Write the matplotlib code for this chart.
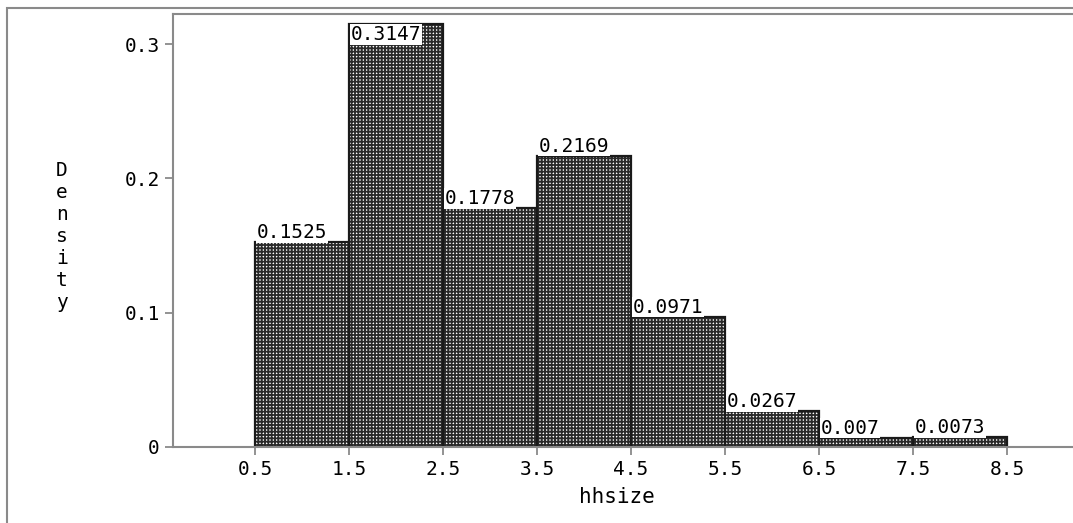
import matplotlib
matplotlib.use('Agg')
import matplotlib.pyplot as plt
from matplotlib.patches import Rectangle

# histogram data (density per bin)
bin_left = [0.5, 1.5, 2.5, 3.5, 4.5, 5.5, 6.5, 7.5]
density = [0.1525, 0.3147, 0.1778, 0.2169, 0.0971, 0.0267, 0.007, 0.0073]
bar_labels = ['0.1525', '0.3147', '0.1778', '0.2169', '0.0971', '0.0267', '0.007', '0.0073']
xticks = [0.5, 1.5, 2.5, 3.5, 4.5, 5.5, 6.5, 7.5, 8.5]
yticks = [0, 0.1, 0.2, 0.3]
ytick_labels = ['0', '0.1', '0.2', '0.3']

plt.rcParams['font.family'] = ['DejaVu Sans Mono']
plt.rcParams['hatch.linewidth'] = 1.3

W, H = 1073, 523
fig = plt.figure(figsize=(W / 100, H / 100), dpi=100)

# outer frame
fig.patches.append(Rectangle((7 / W, -0.1), 1.2, 1 - 8 / H + 0.1, transform=fig.transFigure,
                             fill=False, edgecolor='#8a8a8a', linewidth=1.5))

ax = fig.add_axes([173 / W, 1 - 447 / H, (1090 - 173) / W, (447 - 14) / H])
ax.set_xlim(0.5 - 82 / 94, 0.5 + (1090 - 255) / 94)
ax.set_ylim(0, 0.3 + 30 / 1343)

# bars: dark grid on white (dotted look), then dark outline
ax.bar(bin_left, density, width=1, align='edge', color='white', edgecolor='#2a2a2a',
       hatch='+' * 5, linewidth=0)
ax.bar(bin_left, density, width=1, align='edge', fill=False, edgecolor='#1a1a1a', linewidth=1.6)

for x, h, lab in zip(bin_left, density, bar_labels):
    ax.text(x + 0.02, min(h, 0.3), lab, ha='left', va='bottom', fontsize=14, color='black',
            bbox=dict(facecolor='white', edgecolor='none', pad=0.5))

ax.set_xticks(xticks)
ax.set_xticklabels([str(t) for t in xticks])
ax.set_yticks(yticks)
ax.set_yticklabels(ytick_labels)
ax.tick_params(axis='both', colors='#808080', labelcolor='black', labelsize=14, length=6, width=1.2)

for side in ['left', 'bottom', 'top']:
    ax.spines[side].set_color('#8a8a8a')
    ax.spines[side].set_linewidth(1.5)
ax.spines['right'].set_visible(False)

fig.text(62 / W, 1 - 237 / H, '\n'.join('Density'), ha='center', va='center', fontsize=14,
         linespacing=1.2)
fig.text(617 / W, 1 - 497 / H, 'hhsize', ha='center', va='center', fontsize=15)

plt.savefig('out.png', dpi=100)
